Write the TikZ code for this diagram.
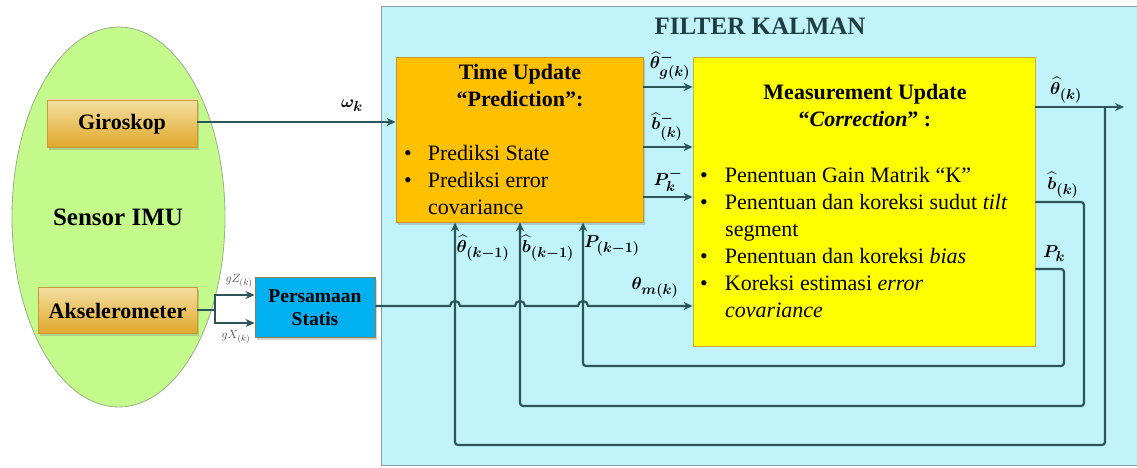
\documentclass[tikz,border=0pt]{standalone}
\usepackage{fontspec}
\setmainfont{Liberation Serif}
\usepackage{amsmath,bm}
\usetikzlibrary{shapes.geometric,shadows,arrows.meta}
\newcommand\myfs[1]{\fontsize{#1}{#1}\selectfont}
\definecolor{lc}{HTML}{2B5558}
\definecolor{panelfill}{HTML}{C1F3FB}
\definecolor{panelborder}{HTML}{8C9C9E}
\definecolor{tuorange}{HTML}{FFC000}
\definecolor{tuborder}{HTML}{C8962A}
\definecolor{muyellow}{HTML}{FFFF00}
\definecolor{muborder}{HTML}{C9B13A}
\definecolor{psblue}{HTML}{00B0F0}
\definecolor{psborder}{HTML}{8F7F45}
\definecolor{imugreen}{HTML}{C4FA8C}
\definecolor{imuborder}{HTML}{9AAE8C}
\definecolor{goldtop}{HTML}{F4DFA2}
\definecolor{goldbot}{HTML}{E1A82A}
\definecolor{goldborder}{HTML}{C99A3A}
\definecolor{titlecol}{HTML}{1E3E42}
\definecolor{smallgray}{HTML}{4A4A4A}
\begin{document}
\begin{tikzpicture}[x=1pt,y=-1pt,
  ln/.style={draw=lc,line width=2.2pt},
  arr/.style={ln,-{Stealth[length=9pt,width=8pt]}},
  fb/.style={ln,rounded corners=3pt,-{Stealth[length=9pt,width=8pt]}},
  shd/.style={drop shadow={opacity=0.35,shadow xshift=2pt,shadow yshift=-3pt}},
  goldbox/.style={draw=goldborder,line width=0.8pt,top color=goldtop,bottom color=goldbot,shd,inner sep=0pt},
  lbl/.style={font=\myfs{19},inner sep=0pt},
  btxt/.style={font=\myfs{22},anchor=base west,inner sep=0pt},
  ttl/.style={font=\myfs{22}\bfseries,anchor=base,inner sep=0pt}]
\useasboundingbox (0,0) rectangle (1137,468);

% Kalman filter panel
\draw[fill=panelfill,draw=panelborder,line width=1pt] (381,7) rectangle (1150,465);
\node[font=\myfs{25}\bfseries,text=titlecol,anchor=base,inner sep=0pt] (title) at (760,35) {FILTER KALMAN};

% Sensor IMU
\node[ellipse,draw=imuborder,fill=imugreen,line width=0.8pt,minimum width=213pt,minimum height=380pt,
      inner sep=0pt] (imu) at (118.5,217) {};
\node[font=\myfs{25}\bfseries,anchor=base,inner sep=0pt] (imut) at (118,225) {Sensor IMU};
\node[goldbox,minimum width=150pt,minimum height=47pt] (giro) at (122,123.5) {};
\node[font=\myfs{22}\bfseries,anchor=base,inner sep=0pt] (girot) at (122,130) {Giroskop};
\node[goldbox,minimum width=159pt,minimum height=46pt] (aks) at (117.5,310) {};
\node[font=\myfs{22}\bfseries,anchor=base,inner sep=0pt] (akst) at (117.5,318) {Akselerometer};

% Persamaan Statis
\node[draw=psborder,fill=psblue,line width=1pt,shd,minimum width=120pt,minimum height=60pt,inner sep=0pt] (ps) at (315,307) {};
\node[font=\myfs{19.5}\bfseries,anchor=base,inner sep=0pt] (ps1) at (315,302) {Persamaan};
\node[font=\myfs{19.5}\bfseries,anchor=base,inner sep=0pt] (ps2) at (315,325) {Statis};

% Time Update
\node[draw=tuborder,fill=tuorange,line width=0.8pt,shd,minimum width=247pt,minimum height=165pt,inner sep=0pt] (tu) at (519.5,139.5) {};
\node[ttl] (tut1) at (520,80) {Time Update};
\node[ttl] (tut2) at (520,107) {“Prediction”:};
\node[btxt] (tub1) at (404,160) {\textbullet\hspace{16pt}Prediksi State};
\node[btxt] (tub2) at (404,187) {\textbullet\hspace{16pt}Prediksi error};
\node[btxt] (tub3) at (428,214) {covariance};

% Measurement Update
\node[draw=muborder,fill=muyellow,line width=0.8pt,minimum width=342pt,minimum height=289pt,inner sep=0pt] (mu) at (864,201.5) {};
\node[ttl] (mut1) at (865,100) {Measurement Update};
\node[ttl] (mut2) at (865,127) {“\textit{Correction}” :};
\node[btxt] (mub1) at (700,182) {\textbullet\hspace{17pt}Penentuan Gain Matrik “K”};
\node[btxt] (mub2) at (700,209) {\textbullet\hspace{17pt}Penentuan dan koreksi sudut \textit{tilt}};
\node[btxt] (mub3) at (725,236) {segment};
\node[btxt] (mub4) at (700,263) {\textbullet\hspace{17pt}Penentuan dan koreksi \textit{bias}};
\node[btxt] (mub5) at (700,290) {\textbullet\hspace{17pt}Koreksi estimasi \textit{error}};
\node[btxt] (mub6) at (725,317) {\textit{covariance}};

% coordinates
\coordinate (sp) at (215,310);
\coordinate (thj) at (1105,107);
\coordinate (thout) at (1124,107);
\coordinate (bj) at (1084,202);
\coordinate (pj) at (1064,269);

% gyro -> time update
\draw[arr] (giro.east |- 0,122) -- (tu.west |- 0,122);
\node[lbl] (omega) at (352,106) {$\bm{\omega_k}$};

% accelerometer -> persamaan
\draw[ln] (aks.east) -- (sp);
\draw[arr] (sp) |- (ps.west |- 0,295);
\draw[arr] (sp) |- (ps.west |- 0,323);
\node[font=\myfs{13}\bfseries,text=smallgray,inner sep=0pt] (gz) at (239,281) {$gZ_{(k)}$};
\node[font=\myfs{13}\bfseries,text=smallgray,inner sep=0pt] (gx) at (236,337) {$gX_{(k)}$};

% persamaan -> measurement with jumps
\draw[ln,-{Stealth[length=9pt,width=8pt]}] (ps.east |- 0,306) -- (450,306) arc[start angle=180,end angle=360,radius=5]
  -- (515,306) arc[start angle=180,end angle=360,radius=5]
  -- (578,306) arc[start angle=180,end angle=360,radius=5]
  -- (mu.west |- 0,306);
\node[lbl] (thm) at (655,288) {$\bm{\theta_{m(k)}}$};

% time update -> measurement update
\draw[arr] (tu.east |- 0,87) -- (mu.west |- 0,87);
\draw[arr] (tu.east |- 0,147) -- (mu.west |- 0,147);
\draw[arr] (tu.east |- 0,197) -- (mu.west |- 0,197);
\node[lbl] (l1) at (670,66) {$\bm{\widehat{\theta}^{-}_{g(k)}}$};
\node[lbl] (l2) at (667,127) {$\bm{\widehat{b}^{-}_{(k)}}$};
\node[lbl] (l3) at (668,180) {$\bm{P^{-}_{k}}$};

% outputs and feedback
\draw[arr] (mu.east |- thout) -- (thout);
\draw[fb] (thj) -- (1105,445) -- (455,445) -- (tu.south -| 455,0);
\draw[fb] (mu.east |- bj) -- (bj) -- (1084,406) -- (520,406) -- (tu.south -| 520,0);
\draw[fb] (mu.east |- pj) -- (pj) -- (1064,366) -- (583,366) -- (tu.south -| 583,0);
\node[lbl] (l4) at (1066,90) {$\bm{\widehat{\theta}_{(k)}}$};
\node[lbl] (l5) at (1063,185) {$\bm{\widehat{b}_{(k)}}$};
\node[lbl] (l6) at (1054,254) {$\bm{P_{k}}$};
\node[lbl] (l7) at (483,248) {$\bm{\widehat{\theta}_{(k-1)}}$};
\node[lbl] (l8) at (548,248) {$\bm{\widehat{b}_{(k-1)}}$};
\node[lbl] (l9) at (612,246) {$\bm{P_{(k-1)}}$};
\end{tikzpicture}
\end{document}
